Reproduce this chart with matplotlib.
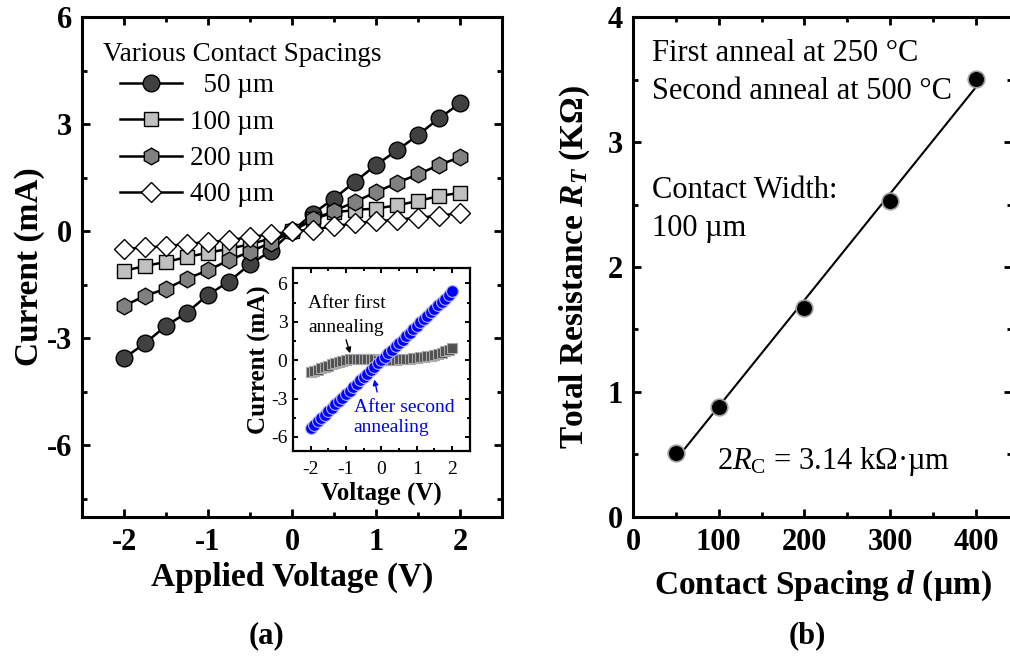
import numpy as np
import matplotlib
matplotlib.use("Agg")
import matplotlib.pyplot as plt
from matplotlib.ticker import MultipleLocator

# Times-like look
plt.rcParams.update({
    "font.family": ["Liberation Serif", "DejaVu Serif"],
    "mathtext.fontset": "custom",
    "mathtext.rm": "Liberation Serif",
    "mathtext.it": "Liberation Serif:italic",
    "mathtext.bf": "Liberation Serif:bold",
    "mathtext.bfit": "Liberation Serif:italic:bold",
    "axes.linewidth": 2.2,
    "axes.unicode_minus": False,
})

# ---- panel (a): I-V for different contact spacings ----
voltage = [-2.0, -1.75, -1.5, -1.25, -1.0, -0.75, -0.5, -0.25, 0.0,
           0.25, 0.5, 0.75, 1.0, 1.25, 1.5, 1.75, 2.0]
cur_50 = [-3.56, -3.14, -2.65, -2.28, -1.78, -1.41, -0.92, -0.55, 0.0,
          0.50, 0.92, 1.39, 1.86, 2.27, 2.70, 3.17, 3.59]
cur_100 = [-1.11, -0.97, -0.86, -0.72, -0.60, -0.49, -0.36, -0.20, 0.0,
           0.34, 0.53, 0.60, 0.64, 0.73, 0.85, 0.99, 1.08]
cur_200 = [-2.09, -1.81, -1.61, -1.33, -1.09, -0.81, -0.57, -0.32, 0.0,
           0.34, 0.57, 0.83, 1.10, 1.36, 1.60, 1.86, 2.08]
cur_400 = [-0.50, -0.45, -0.42, -0.35, -0.30, -0.25, -0.16, -0.08, 0.0,
           0.05, 0.14, 0.23, 0.28, 0.33, 0.38, 0.44, 0.51]
spacing_labels = ["  50 µm", "100 µm", "200 µm", "400 µm"]

# inset: before / after second anneal
inset_v = [-2.0, -1.9, -1.8, -1.7, -1.6, -1.5, -1.4, -1.3, -1.2, -1.1, -1.0,
           -0.9, -0.8, -0.7, -0.6, -0.5, -0.4, -0.3, -0.2, -0.1, 0.0,
           0.1, 0.2, 0.3, 0.4, 0.5, 0.6, 0.7, 0.8, 0.9, 1.0,
           1.1, 1.2, 1.3, 1.4, 1.5, 1.6, 1.7, 1.8, 1.9, 2.0]
first_anneal = [-0.92, -0.84, -0.74, -0.63, -0.52, -0.42, -0.32, -0.22, -0.12, -0.04, 0.03,
                0.08, 0.11, 0.13, 0.13, 0.12, 0.10, 0.08, 0.06, 0.04, 0.03,
                0.03, 0.03, 0.04, 0.05, 0.06, 0.08, 0.10, 0.12, 0.15, 0.18,
                0.22, 0.26, 0.31, 0.36, 0.42, 0.50, 0.59, 0.70, 0.82, 0.95]
second_anneal = [-5.30, -5.05, -4.78, -4.52, -4.25, -3.98, -3.72, -3.45, -3.18, -2.92, -2.65,
                 -2.38, -2.12, -1.85, -1.58, -1.32, -1.05, -0.79, -0.52, -0.26, 0.02,
                 0.28, 0.55, 0.81, 1.08, 1.35, 1.61, 1.88, 2.15, 2.41, 2.68,
                 2.95, 3.21, 3.48, 3.75, 4.02, 4.28, 4.55, 4.82, 5.10, 5.40]

# ---- panel (b): TLM total resistance ----
spacing = [50, 100, 200, 300, 400]
r_total = [0.51, 0.88, 1.67, 2.53, 3.51]


def style_axis(ax, size, bold, major_len, minor_len, width, xpad, ypad):
    ax.tick_params(which="both", direction="in", top=True, right=True, width=width)
    ax.tick_params(which="major", length=major_len, labelsize=size)
    ax.tick_params(which="minor", length=minor_len)
    ax.tick_params(axis="x", which="major", pad=xpad)
    ax.tick_params(axis="y", which="major", pad=ypad)
    for lab in ax.get_xticklabels() + ax.get_yticklabels():
        lab.set_fontweight("bold" if bold else "normal")


fig = plt.figure(figsize=(10.1, 6.58), dpi=100)

# panel (a)
ax1 = fig.add_axes([0.0812, 0.2150, 0.4158, 0.7585])
series = [
    (cur_50, "o", "#404040", 12),
    (cur_100, "s", "#c0c0c0", 10),
    (cur_200, "h", "#808080", 12),
    (cur_400, "D", "white", 10),
]
for (vals, mk, col, ms), lab in zip(series, spacing_labels):
    ax1.plot(voltage, vals, color="black", lw=1.8, marker=mk, ms=ms,
             mfc=col, mec="black", mew=1.0, label=lab)
ax1.set_xlim(-2.5, 2.5)
ax1.set_ylim(-8, 6)
ax1.xaxis.set_major_locator(MultipleLocator(1))
ax1.xaxis.set_minor_locator(MultipleLocator(0.5))
ax1.yaxis.set_major_locator(MultipleLocator(3))
ax1.yaxis.set_minor_locator(MultipleLocator(1.5))
style_axis(ax1, 22, True, 6, 3.5, 2.0, 8.5, 7)
ax1.set_xlabel("Applied Voltage (V)", fontsize=24, fontweight="bold", labelpad=3.5)
ax1.set_ylabel("Current (mA)", fontsize=24, fontweight="bold")
ax1.yaxis.set_label_coords(-0.087, 0.5)

ax1.text(-2.25, 4.77, "Various Contact Spacings", fontsize=19.5, va="baseline")
ax1.legend(loc="upper left", bbox_to_anchor=(0.09, 0.888), frameon=False,
           fontsize=19.5, handlelength=2.3, handletextpad=0.3,
           labelspacing=0.42, borderpad=0, borderaxespad=0)

# inset
ax_in = fig.add_axes([0.290, 0.3146, 0.1752, 0.278])
ax_in.plot(inset_v, first_anneal, ls="none", marker="s", ms=7,
           mfc="#505050", mec="#a8a8a8", mew=0.8)
ax_in.plot(inset_v, second_anneal, ls="none", marker="o", ms=8.5,
           mfc="#0000ff", mec="#b0b0ff", mew=0.8)
ax_in.set_xlim(-2.5, 2.5)
ax_in.set_ylim(-7.1, 7.2)
ax_in.xaxis.set_major_locator(MultipleLocator(1))
ax_in.xaxis.set_minor_locator(MultipleLocator(0.5))
ax_in.yaxis.set_major_locator(MultipleLocator(3))
ax_in.yaxis.set_minor_locator(MultipleLocator(1.5))
for sp in ax_in.spines.values():
    sp.set_linewidth(1.6)
style_axis(ax_in, 14, False, 3.5, 2, 1.4, 7.5, 4)
ax_in.set_xlabel("Voltage (V)", fontsize=18, fontweight="bold", labelpad=2)
ax_in.set_ylabel("Current (mA)", fontsize=18, fontweight="bold", labelpad=0)
ax_in.text(-2.07, 4.06, "After first", fontsize=14, va="baseline")
ax_in.text(-2.07, 2.2, "annealing", fontsize=14, va="baseline")
ax_in.annotate("", xy=(-0.86, 0.33), xytext=(-1.02, 1.8),
               arrowprops=dict(arrowstyle="-|>", color="black", lw=1.0,
                               mutation_scale=8))
ax_in.text(-0.78, -4.04, "After second", fontsize=14, va="baseline", color="#0000ff")
ax_in.text(-0.78, -5.6, "annealing", fontsize=14, va="baseline", color="#0000ff")
ax_in.annotate("", xy=(-0.22, -1.3), xytext=(-0.1, -2.7),
               arrowprops=dict(arrowstyle="-|>", color="#0000ff", lw=1.0,
                               mutation_scale=8))

# panel (b)
ax2 = fig.add_axes([0.6267, 0.2150, 0.3752, 0.7585])
fit = np.polyfit(spacing, r_total, 1)
fit_x = np.array([spacing[0], spacing[-1]])
ax2.plot(fit_x, np.polyval(fit, fit_x), color="black", lw=1.5, zorder=2)
ax2.plot(spacing, r_total, ls="none", marker="o", ms=12, mfc="black",
         mec="#a0a0a0", mew=1.2, zorder=3)
ax2.set_xlim(0, 442)
ax2.set_ylim(0, 4)
ax2.xaxis.set_major_locator(MultipleLocator(100))
ax2.xaxis.set_minor_locator(MultipleLocator(50))
ax2.yaxis.set_major_locator(MultipleLocator(1))
ax2.yaxis.set_minor_locator(MultipleLocator(0.5))
style_axis(ax2, 22, True, 6, 3.5, 2.0, 8.5, 7)
ax2.set_xlabel(r"Contact Spacing $\mathbfit{d}$ (µm)", fontsize=24,
               fontweight="bold", labelpad=7.8)
ax2.set_ylabel(r"Total Resistance $\mathbfit{R}_{\mathbfit{T}}$ (KΩ)", fontsize=24,
               fontweight="bold")
ax2.yaxis.set_label_coords(-0.109, 0.5)

ax2.text(22, 3.648, "First anneal at 250 °C", fontsize=22, va="baseline")
ax2.text(22, 3.344, "Second anneal at 500 °C", fontsize=22, va="baseline")
ax2.text(22, 2.552, "Contact Width:", fontsize=22, va="baseline")
ax2.text(22, 2.248, "100 µm", fontsize=22, va="baseline")
ax2.text(98, 0.381, r"$2R_{\mathrm{C}}$ = 3.14 kΩ·µm", fontsize=22, va="baseline")

# sub-figure captions
fig.text(0.264, 0.022, "(a)", fontsize=22, fontweight="bold", ha="center")
fig.text(0.799, 0.022, "(b)", fontsize=22, fontweight="bold", ha="center")

fig.savefig("out.png", dpi=100)
